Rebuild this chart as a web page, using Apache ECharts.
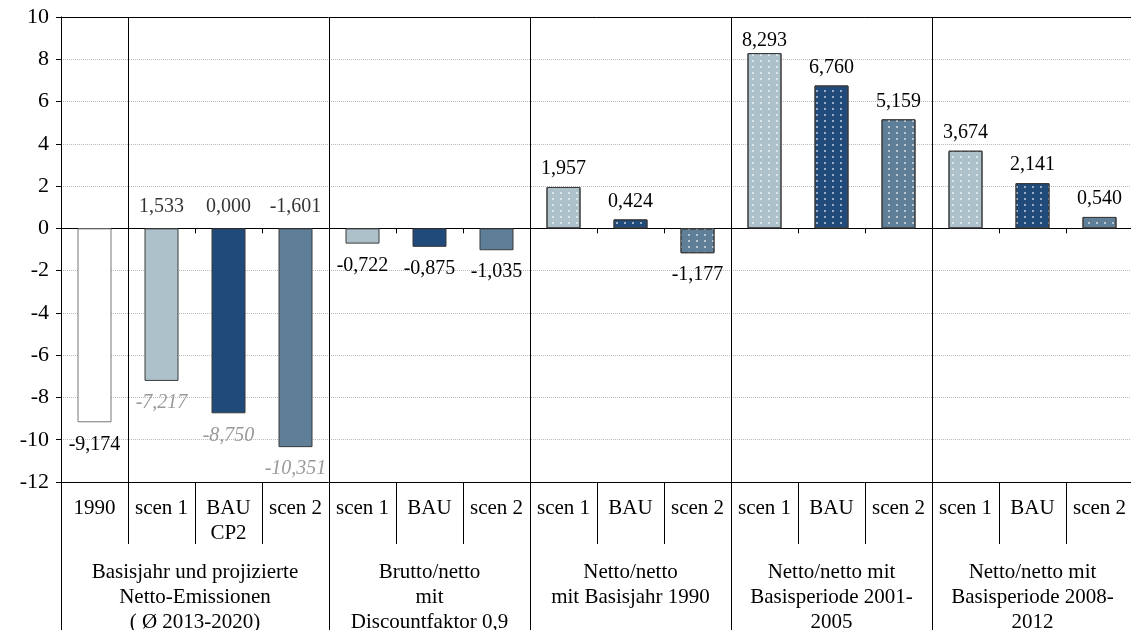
<!DOCTYPE html>
<html>
<head>
<meta charset="utf-8">
<script src="https://cdn.jsdelivr.net/npm/echarts@6/dist/echarts.min.js"></script>
<style>
  html, body { margin: 0; padding: 0; background: #fff; }
  #chart { width: 1131px; height: 630px; }
</style>
</head>
<body>
<div id="chart"></div>
<script>
  // Kategorien (untere Zeile) und Gruppen (Beschriftung darunter)
  const categories = ["1990", "scen 1", "BAU\nCP2", "scen 2",
    "scen 1", "BAU", "scen 2",
    "scen 1", "BAU", "scen 2",
    "scen 1", "BAU", "scen 2",
    "scen 1", "BAU", "scen 2"];
  const kinds = ["base", "scen1", "bau", "scen2",
    "scen1", "bau", "scen2",
    "scen1", "bau", "scen2",
    "scen1", "bau", "scen2",
    "scen1", "bau", "scen2"];
  const values = [-9.174, -7.217, -8.750, -10.351,
    -0.722, -0.875, -1.035,
    1.957, 0.424, -1.177,
    8.293, 6.760, 5.159,
    3.674, 2.141, 0.540];
  // zusätzliche Werte über der Nulllinie (erste Gruppe)
  const deltas = [null, 1.533, 0.000, -1.601, null, null, null, null, null, null, null, null, null, null, null, null];
  const groups = [
    "Basisjahr und projizierte\nNetto-Emissionen\n( Ø 2013-2020)",
    "Brutto/netto\nmit\nDiscountfaktor 0,9",
    "Netto/netto\nmit Basisjahr 1990",
    "Netto/netto mit\nBasisperiode 2001-\n2005",
    "Netto/netto mit\nBasisperiode 2008-\n2012"
  ];
  const groupSizes = [4, 3, 3, 3, 3];
  const dotted = [false, false, false, false, false, false, false,
    true, true, true, true, true, true, true, true, true];
  const yTicks = { min: -12, max: 10, step: 2 };

  const FONT = "Liberation Serif";
  const colors = { base: "#ffffff", scen1: "#adc1cb", bau: "#1f4a7a", scen2: "#5f7f98" };
  const fmt = (v) => v.toFixed(3).replace(".", ",");

  // Gruppengrenzen und -mitten
  const bounds = [];
  const centers = {};
  let acc = 0;
  groupSizes.forEach((n, g) => {
    bounds.push(acc);
    centers[(acc + n / 2).toFixed(1)] = groups[g];
    acc += n;
  });
  const innerBounds = bounds.slice(1).concat([1]); // 1990 | scen 1 Trennlinie

  const barData = values.map((v, i) => {
    const k = kinds[i];
    const item = {
      value: v,
      itemStyle: {
        color: colors[k],
        borderColor: k === "base" ? "#777" : "#3a3a3a",
        borderWidth: 1
      },
      label: { distance: v < 0 ? 12 : 8 }
    };
    if (v > 8) item.label.distance = 2; // stößt oben an
    if (dotted[i]) {
      item.itemStyle.decal = {
        symbol: "circle",
        symbolSize: 1,
        color: "rgba(255,255,255,0.75)",
        dashArrayX: [1.6, 5.8],
        dashArrayY: [1.6, 3.4]
      };
    }
    if (i >= 1 && i <= 3) {
      item.label.color = "#9a9a9a";
      item.label.fontStyle = "italic";
    }
    return item;
  });

  const deltaData = [];
  deltas.forEach((d, i) => {
    if (d !== null) deltaData.push({ value: [i, 0], d: d });
  });

  const chart = echarts.init(document.getElementById("chart"));
  const hidden = { show: false };

  chart.setOption({
    animation: false,
    backgroundColor: "#fff",
    textStyle: { fontFamily: FONT },
    grid: {
      left: 61, right: -2, top: 17, bottom: 148,
      containLabel: false, outerBoundsMode: "none"
    },
    xAxis: [
      {
        // untere Kategorien-Zeile
        type: "category",
        data: categories,
        position: "bottom",
        axisLine: { onZero: false, lineStyle: { color: "#000", width: 1 } },
        axisTick: { show: true, length: 62, interval: 0, lineStyle: { color: "#000" } },
        axisLabel: {
          interval: 0, margin: 14, fontFamily: FONT, fontSize: 21,
          color: "#000", lineHeight: 25
        },
        splitLine: {
          show: true,
          interval: (i) => innerBounds.indexOf(i) >= 0,
          lineStyle: { color: "#000", width: 1, type: "solid" }
        }
      },
      {
        // Nulllinie mit kurzen Strichen
        type: "category",
        data: categories,
        position: "bottom",
        axisLine: { onZero: true, lineStyle: { color: "#000", width: 1 } },
        axisTick: { show: true, length: 5, interval: 0, lineStyle: { color: "#000" } },
        axisLabel: hidden,
        splitLine: hidden
      },
      {
        // lange Trennstriche zwischen den Gruppen
        type: "category",
        data: categories,
        position: "bottom",
        axisLine: { onZero: false, show: false },
        axisTick: {
          show: true, length: 148,
          interval: (i) => bounds.indexOf(i) >= 0,
          lineStyle: { color: "#000" }
        },
        axisLabel: hidden,
        splitLine: hidden
      },
      {
        // Gruppenbeschriftung
        type: "value",
        min: 0, max: 16, interval: 0.5,
        position: "bottom",
        axisLine: { onZero: false, show: false },
        axisTick: hidden,
        splitLine: hidden,
        axisLabel: {
          margin: 78, fontFamily: FONT, fontSize: 21, color: "#000", lineHeight: 25,
          showMinLabel: true, showMaxLabel: true,
          formatter: (v) => centers[Number(v).toFixed(1)] || ""
        }
      },
      {
        // obere Rahmenlinie
        type: "category",
        data: categories,
        position: "top",
        axisLine: { onZero: false, lineStyle: { color: "#000", width: 1 } },
        axisTick: hidden,
        axisLabel: hidden,
        splitLine: hidden
      }
    ],
    yAxis: {
      type: "value",
      min: yTicks.min, max: yTicks.max, interval: yTicks.step,
      axisLine: { show: true, lineStyle: { color: "#000", width: 1 } },
      axisTick: { show: true, length: 5, lineStyle: { color: "#000" } },
      axisLabel: { fontFamily: FONT, fontSize: 22, color: "#000", margin: 12 },
      splitLine: { show: true, lineStyle: { color: "#bbb", type: "dotted", width: 1 } }
    },
    series: [
      {
        type: "bar",
        xAxisIndex: 0,
        data: barData,
        barWidth: 34,
        label: {
          show: true,
          fontFamily: FONT,
          fontSize: 20,
          color: "#000",
          position: "outside",
          formatter: (p) => fmt(p.value)
        }
      },
      {
        type: "scatter",
        xAxisIndex: 0,
        symbolSize: 0,
        data: deltaData,
        label: {
          show: true,
          position: "top",
          distance: 12,
          fontFamily: FONT,
          fontSize: 20,
          color: "#000",
          formatter: (p) => fmt(p.data.d)
        },
        z: 5
      }
    ]
  });
</script>
</body>
</html>
